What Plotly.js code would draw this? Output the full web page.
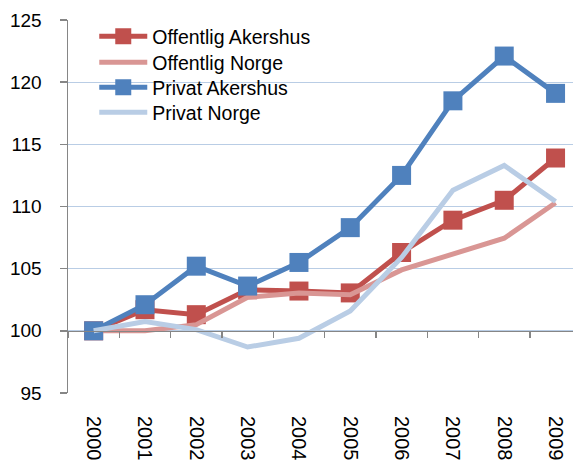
<!DOCTYPE html>
<html>
<head>
<meta charset="utf-8">
<script src="https://cdn.plot.ly/plotly-3.0.1.min.js"></script>
<style>html,body{margin:0;padding:0;background:#fff;}#chart{width:573px;height:463px;}</style>
</head>
<body>
<div id="chart"></div>
<script>
var years = ["2000","2001","2002","2003","2004","2005","2006","2007","2008","2009"];
var seriesNames = ["Offentlig Akershus","Offentlig Norge","Privat Akershus","Privat Norge"];
var offentligAkershus = [100, 101.7, 101.3, 103.3, 103.2, 103.05, 106.3, 108.9, 110.5, 113.9];
var offentligNorge = [100, 100.0, 100.5, 102.7, 103.05, 102.9, 104.9, 106.2, 107.45, 110.3];
var privatAkershus = [100, 102.1, 105.2, 103.6, 105.5, 108.3, 112.5, 118.5, 122.1, 119.1];
var privatNorge = [100, 100.75, 100.1, 98.7, 99.4, 101.6, 105.9, 111.3, 113.3, 110.4];
var yTicks = [95, 100, 105, 110, 115, 120, 125];

var colors = ["#C0504D", "#D99694", "#4F81BD", "#B9CDE5"];
var font = "Arial, 'Liberation Sans', sans-serif";
var legendIds = ["legend", "legend2", "legend3", "legend4"];
var legendY = [1.008, 0.9383, 0.8713, 0.8043];

function tr(i, y, withMarkers) {
  var t = {
    type: "scatter",
    mode: withMarkers ? "lines+markers" : "lines",
    name: seriesNames[i], x: years, y: y,
    line: {color: colors[i], width: 5},
    legend: legendIds[i],
    hoverinfo: "x+y+name"
  };
  if (withMarkers) t.marker = {symbol: "square", size: 19, color: colors[i], line: {width: 0}};
  return t;
}

var data = [
  tr(0, offentligAkershus, true),
  tr(1, offentligNorge, false),
  tr(2, privatAkershus, true),
  tr(3, privatNorge, false),
  {type: "scatter", mode: "markers", x: years, y: years.map(function(){return null;}),
   xaxis: "x2", yaxis: "y", showlegend: false, hoverinfo: "skip"}
];

var layout = {
  width: 573, height: 463,
  margin: {l: 68, r: 0, t: 20, b: 70, pad: 0},
  paper_bgcolor: "#fff", plot_bgcolor: "#fff",
  font: {family: font, size: 18, color: "#000"},
  showlegend: true,
  xaxis: {type: "category", range: [-0.5, 9.34], showgrid: false, zeroline: false,
          showline: false, ticks: "", tickangle: 90, ticklabelstandoff: 22,
          tickfont: {family: font, size: 20, color: "#000"}},
  xaxis2: {type: "category", overlaying: "x", anchor: "free", position: 5/30,
           range: [-0.5, 9.34], showgrid: false, zeroline: false, showticklabels: false,
           showline: true, linecolor: "#868686", linewidth: 1.5,
           ticks: "outside", tickson: "boundaries", ticklen: 6, tickcolor: "#868686", tickwidth: 1.5},
  yaxis: {range: [95, 125], tickvals: yTicks, ticks: "outside", ticklen: 7,
          tickcolor: "#868686", tickwidth: 1.5, showline: true, linecolor: "#868686", linewidth: 1.5,
          gridcolor: "#B9CDE5", gridwidth: 1.2, zeroline: false, ticklabelstandoff: 14,
          tickfont: {family: font, size: 19, color: "#000"}}
};
legendIds.forEach(function(id, i) {
  layout[id] = {x: 0.052, y: legendY[i], xanchor: "left", yanchor: "top",
                bgcolor: "rgba(0,0,0,0)", font: {family: font, size: 19.5, color: "#000"},
                itemwidth: 48};
});

Plotly.newPlot("chart", data, layout, {displayModeBar: false, staticPlot: true});
</script>
</body>
</html>
